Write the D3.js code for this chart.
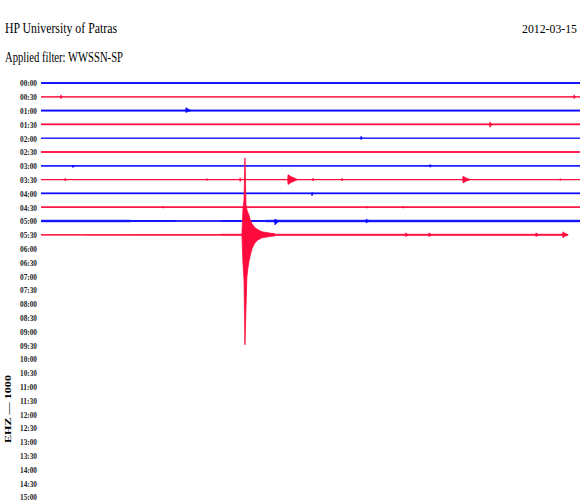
<!DOCTYPE html>
<html>
<head>
<meta charset="utf-8">
<script src="https://cdn.jsdelivr.net/npm/d3@7"></script>
<style>
  body { margin: 0; background: #fff; }
  #heli { width: 580px; height: 500px; }
</style>
</head>
<body>
<div id="heli"></div>
<script>
// helicorder record, EHZ channel, 30 min per row

// html target
const chartTarget = "#heli"

// row labels (start time of each 30-min row)
const rowLabels = ["00:00","00:30","01:00","01:30","02:00","02:30","03:00","03:30",
  "04:00","04:30","05:00","05:30","06:00","06:30","07:00","07:30","08:00","08:30",
  "09:00","09:30","10:00","10:30","11:00","11:30","12:00","12:30","13:00","13:30",
  "14:00","14:30","15:00"]

// background noise half-amplitude per 2.5-min block, rows with data only
const rowNoise = [
  [1.0,1.0,1.0,1.0,1.0,1.0,1.0,1.0,1.0,1.0,1.0,1.0],
  [0.4,0.4,0.4,0.4,0.4,0.4,0.4,0.4,0.4,0.4,0.4,0.4],
  [1.0,1.0,1.0,1.0,1.0,1.0,1.0,1.0,1.0,1.0,1.0,1.0],
  [0.8,0.8,0.8,0.8,0.8,0.8,0.8,0.8,0.8,0.8,0.8,0.8],
  [0.3,0.3,0.3,0.3,0.3,0.3,0.3,0.3,0.3,0.3,0.3,0.3],
  [0.8,0.8,0.8,0.8,0.8,0.8,0.8,0.8,0.8,0.8,0.8,0.8],
  [0.6,0.6,0.6,0.6,0.6,0.6,0.6,0.6,0.6,0.6,0.6,0.6],
  [0.4,0.4,0.4,0.4,0.4,0.4,0.4,0.4,0.4,0.4,0.4,0.4],
  [0.8,0.8,0.8,0.8,0.8,0.8,0.8,0.8,0.8,0.8,0.8,0.8],
  [0.8,0.8,0.8,0.8,0.8,0.8,0.8,0.8,0.8,0.8,0.8,0.8],
  [1.2,1.2,1.1,0.4,1.1,1.2,1.2,1.2,1.2,1.2,1.2,1.2],
  [0.5,0.6,0.7,0.8,1.0,1.0,1.0,1.0,1.0,1.0,1.0,1.0]
]

// minute where the last row stops (live record)
const recordEnd = 29.3

// small arrivals: row index, minute, up, down, duration (min)
const blipRow  = [1, 1, 2, 3, 4, 6, 6, 7, 7, 7, 7, 7, 7, 7, 7, 8, 9, 9, 9, 10, 10, 11, 11, 11, 11]
const blipMin  = [1.11, 29.67, 8.07, 24.99, 17.81, 1.78, 21.65, 1.34, 9.24, 11.08, 13.75, 15.14, 16.75, 23.49, 28.9,
                  15.08, 6.79, 18.14, 20.15, 13.02, 18.1, 20.3, 21.6, 27.55, 29.05]
const blipUp   = [2, 2, 3, 2.5, 2, 0.5, 1.5, 1.5, 1, 2, 5, 1.5, 1.5, 3.5, 1, 1, 1, 1, 1, 2, 2, 2, 2, 2, 3]
const blipDown = [2, 2, 2, 3, 1.5, 2, 1.5, 1.5, 1, 2, 5, 1.5, 1.5, 3.5, 1, 2.5, 1, 1, 1, 4, 2, 2, 2, 2, 3]
const blipDur  = [0.08, 0.08, 0.3, 0.12, 0.1, 0.08, 0.1, 0.08, 0.06, 0.08, 0.55, 0.08, 0.08, 0.4, 0.06,
                  0.1, 0.06, 0.06, 0.06, 0.25, 0.2, 0.15, 0.15, 0.15, 0.3]

// main earthquake on the 05:30 row: envelope in minutes and amplitude
const quakeRow  = 11
const quakeMin  = [11.19, 11.24, 11.30, 11.35, 11.41, 11.46, 11.52, 11.57, 11.63, 11.74, 11.91, 12.08, 12.30, 12.63, 13.02]
const quakeUp   = [3, 25, 35, 77, 30, 25, 22, 20, 16, 11, 7, 5, 3, 2, 1]
const quakeDown = [3, 28, 45, 110, 72, 42, 33, 27, 22, 14, 8, 5, 3, 2, 1]

// texts
const station = "HP University of Patras"
const filterText = "Applied filter: WWSSN-SP"
const dayText = "2012-03-15"
const channelText = "EHZ \u2014 1000"

// colours
const blue = "#0a0aff"
const red = "#ff0a3c"
const rowColor = (i) => i % 2 === 0 ? blue : red

// size
const chartWidth = 580
const chartHeight = 500

// margins
const marginTop = 83
const marginLeft = 41
const marginBottom = 3

// scales
const xScale = d3.scaleLinear([0, 30], [marginLeft, chartWidth])
const yScale = d3.scalePoint(rowLabels, [marginTop, chartHeight - marginBottom])
const ampScale = d3.scaleLinear([0, 100], [0, 100]) // counts/100 -> px

const font = "'Liberation Serif', serif"

const svg = d3.select(chartTarget)
  .append("svg")
  .attr("width", chartWidth)
  .attr("height", chartHeight)
  .attr("viewBox", [0, 0, chartWidth, chartHeight])

// header
svg.append("text")
  .attr("x", 5).attr("y", 33)
  .attr("font-family", font).attr("font-size", 14)
  .attr("textLength", 112).attr("lengthAdjust", "spacingAndGlyphs")
  .text(station)

svg.append("text")
  .attr("x", 5).attr("y", 62)
  .attr("font-family", font).attr("font-size", 14)
  .attr("textLength", 118).attr("lengthAdjust", "spacingAndGlyphs")
  .text(filterText)

svg.append("text")
  .attr("x", 577).attr("y", 33)
  .attr("font-family", font).attr("font-size", 13)
  .attr("text-anchor", "end")
  .attr("textLength", 55).attr("lengthAdjust", "spacingAndGlyphs")
  .text(dayText)

// row labels on the left
const yAxis = d3.axisLeft(yScale).tickSize(0).tickPadding(0)
svg.append("g")
  .attr("transform", `translate(37,0)`)
  .call(yAxis)
  .call(g => g.select(".domain").remove())
  .call(g => g.selectAll("text")
    .attr("font-family", font)
    .attr("font-size", 9)
    .attr("font-weight", "bold")
    .attr("fill", "#222")
    .attr("textLength", 17)
    .attr("lengthAdjust", "spacingAndGlyphs"))

// channel label
svg.append("text")
  .attr("transform", `translate(11,443) rotate(-90)`)
  .attr("font-family", font).attr("font-size", 9)
  .attr("font-weight", "bold")
  .attr("textLength", 68).attr("lengthAdjust", "spacingAndGlyphs")
  .text(channelText)

// traces
const blockLen = 2.5
const traces = svg.append("g")

rowNoise.forEach((row, i) => {
  const base = yScale(rowLabels[i])
  const end = i === rowNoise.length - 1 ? recordEnd : 30
  const pts = row.map((a, k) => [k * blockLen, a]).filter(p => p[0] < end)
  pts.push([end, pts[pts.length - 1][1]])

  const band = d3.area()
    .x(d => xScale(d[0]))
    .y0(d => base + ampScale(d[1]))
    .y1(d => base - ampScale(d[1]))
    .curve(d3.curveStepAfter)

  traces.append("path")
    .attr("d", band(pts))
    .attr("fill", rowColor(i))
    .attr("opacity", 0.8)

  traces.append("line")
    .attr("x1", xScale(0)).attr("x2", xScale(end))
    .attr("y1", base).attr("y2", base)
    .attr("stroke", rowColor(i))
    .attr("stroke-width", 1.3)
})

// small arrivals
const spindle = d3.area()
  .x(d => xScale(d.t))
  .y0(d => d.base + ampScale(d.down))
  .y1(d => d.base - ampScale(d.up))

blipRow.forEach((r, j) => {
  const base = yScale(rowLabels[r])
  const t = blipMin[j]
  const shape = [
    { t: t - 0.03, base, up: 0, down: 0 },
    { t: t, base, up: blipUp[j], down: blipDown[j] },
    { t: t + blipDur[j] * 0.3, base, up: blipUp[j] * 0.6, down: blipDown[j] * 0.6 },
    { t: t + blipDur[j], base, up: 0, down: 0 }
  ]
  traces.append("path")
    .attr("d", spindle(shape))
    .attr("fill", rowColor(r))
    .attr("stroke", rowColor(r))
    .attr("stroke-width", 0.6)
})

// main event
const qBase = yScale(rowLabels[quakeRow])
const quake = quakeMin.map((t, k) => ({ t, base: qBase, up: quakeUp[k], down: quakeDown[k] }))
traces.append("path")
  .attr("d", spindle(quake))
  .attr("fill", rowColor(quakeRow))
  .attr("stroke", rowColor(quakeRow))
  .attr("stroke-width", 0.8)
</script>
</body>
</html>
